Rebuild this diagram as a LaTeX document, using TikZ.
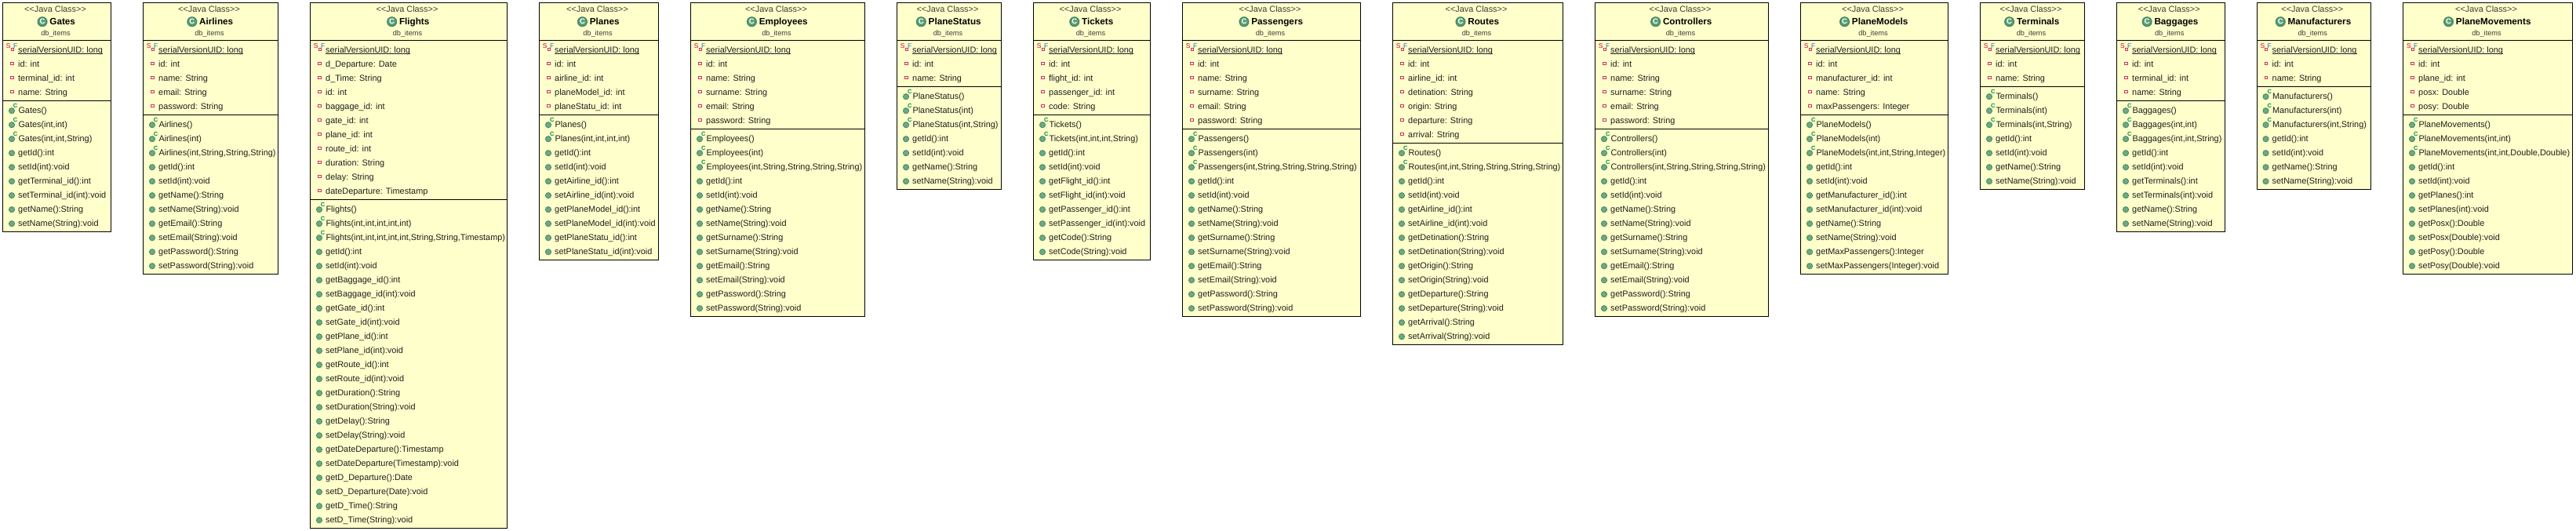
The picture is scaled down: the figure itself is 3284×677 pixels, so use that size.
\documentclass[tikz,border=0pt]{standalone}
\usepackage{fontspec}
\setmainfont{Liberation Sans}
\catcode`\_=12
\definecolor{boxfill}{HTML}{FFFFCB}
\definecolor{txtdark}{HTML}{1E1E1E}
\definecolor{txtgray}{HTML}{3C3C3C}
\definecolor{attred}{HTML}{D0305A}
\definecolor{metgreen}{HTML}{70A885}
\definecolor{metedge}{HTML}{3E8A60}
\definecolor{ctorc}{HTML}{008A4A}
\definecolor{finalf}{HTML}{2A6CC0}
\definecolor{statics}{HTML}{C8003C}
\tikzset{
  x=1pt,y=-1pt,
  classbox/.style={draw=black,line width=1pt,fill=boxfill,inner sep=0pt,outer sep=0pt,anchor=north west},
  seprule/.style={draw=black,line width=1pt},
  stereotype/.style={inner sep=0pt,anchor=base,text=txtgray,font=\fontsize{10.9}{13}\selectfont},
  classtitle/.style={inner sep=0pt,anchor=base,text=black,font=\fontsize{11.7}{13}\selectfont\bfseries},
  pkgname/.style={inner sep=0pt,anchor=base,text=txtgray,font=\fontsize{9.2}{11}\selectfont},
  member/.style={inner sep=0pt,anchor=base west,text=txtdark,font=\fontsize{10.9}{13}\selectfont},
  underrule/.style={draw=txtdark,line width=.9pt},
  classicon/.style={circle,draw=metedge,line width=1.4pt,fill=metgreen!70!metedge,minimum size=11.6pt,inner sep=0pt,text=white,font=\fontsize{9.5}{10}\selectfont\bfseries},
  attricon/.style={rectangle,draw=attred,line width=1.1pt,fill=white,minimum size=3.2pt,inner sep=0pt},
  methicon/.style={circle,draw=metedge,line width=.8pt,fill=metgreen,minimum size=7.2pt,inner sep=0pt},
  ctormark/.style={inner sep=0pt,text=ctorc,font=\fontsize{7.5}{8}\selectfont\bfseries},
  staticmark/.style={inner sep=0pt,text=statics,font=\fontsize{8.5}{9}\selectfont},
  finalmark/.style={inner sep=0pt,text=finalf,font=\fontsize{8.5}{9}\selectfont},
}
\newcount\nA \newcount\nC \newcount\nM
% id, left, right, title, fields, constructors, methods
\newcommand\umlclass[7]{%
  \global\nA=1 \foreach \txt in {#5}{\global\advance\nA by 1 }%
  \global\nC=0 \foreach \txt in {#6}{\global\advance\nC by 1 }%
  \global\nM=0 \foreach \txt in {#7}{\global\advance\nM by 1 }%
  \pgfmathsetmacro\sepy{51.5+18*\the\nA+5}%
  \pgfmathsetmacro\boty{\sepy+12+18*(\the\nC+\the\nM-1)+11}%
  \pgfmathsetmacro\cx{(#2+#3)/2}%
  \node[classbox,name=#1,minimum width={(#3-#2)*1pt},minimum height={(\boty-3.5)*1pt}] at (#2,3.5) {};
  \draw[seprule] (#2,51.5) -- (#3,51.5);
  \draw[seprule] (#2,\sepy) -- (#3,\sepy);
  \node[stereotype,name=#1-st] at ({\cx-2},15.8) {<{}<Java Class>{}>};
  \node[classtitle,name=#1-title] at ({\cx+7.2},32) {#4};
  \node[classicon,name=#1-icon] at ([xshift=-9.2pt,yshift=4.3pt]#1-title.base west) {C};
  \node[pkgname,name=#1-pkg] at ({\cx-1.5},46) {db_items};
  % serial field
  \node[staticmark,name=#1-S] at ({#2+7.3},58.7) {S};
  \node[finalmark,name=#1-F] at ({#2+16.2},58.7) {F};
  \node[attricon,name=#1-si] at ({#2+12.2},63.3) {};
  \node[member,name=#1-a0] at ({#2+19.5},67) {serialVersionUID: long};
  \draw[underrule] ([yshift=-1.6pt]#1-a0.base west) -- ([yshift=-1.6pt]#1-a0.base east);
  \foreach \txt [count=\i] in {#5}{
    \node[attricon,name=#1-ai\i] at ({#2+12},{63.3+18*\i}) {};
    \node[member,name=#1-a\i] at ({#2+19.5},{67+18*\i}) {\txt};
  }
  \foreach \txt [count=\i] in {#6}{
    \node[methicon,name=#1-ci\i] at ({#2+11.5},{\sepy+12.7+18*(\i-1)}) {};
    \node[ctormark,name=#1-cm\i] at ({#2+16.2},{\sepy+6.4+18*(\i-1)}) {C};
    \node[member,name=#1-c\i] at ({#2+19.8},{\sepy+15.7+18*(\i-1)}) {\txt};
  }
  \foreach \txt [count=\i] in {#7}{
    \node[methicon,name=#1-mi\i] at ({#2+11.5},{\sepy+12.7+18*(\the\nC+\i-1)}) {};
    \node[member,name=#1-m\i] at ({#2+19.5},{\sepy+15.7+18*(\the\nC+\i-1)}) {\txt};
  }
}
\begin{document}
\begin{tikzpicture}
\useasboundingbox (0,0) rectangle (3284,677);
\umlclass{gates}{3.5}{141.5}{Gates}
 {{id: int},{terminal_id: int},{name: String}}
 {{Gates()},{Gates(int,int)},{Gates(int,int,String)}}
 {{getId():int},{setId(int):void},{getTerminal_id():int},{setTerminal_id(int):void},{getName():String},{setName(String):void}}
\umlclass{airlines}{182.5}{354.5}{Airlines}
 {{id: int},{name: String},{email: String},{password: String}}
 {{Airlines()},{Airlines(int)},{Airlines(int,String,String,String)}}
 {{getId():int},{setId(int):void},{getName():String},{setName(String):void},{getEmail():String},{setEmail(String):void},{getPassword():String},{setPassword(String):void}}
\umlclass{flights}{395.5}{646.5}{Flights}
 {{d_Departure: Date},{d_Time: String},{id: int},{baggage_id: int},{gate_id: int},{plane_id: int},{route_id: int},{duration: String},{delay: String},{dateDeparture: Timestamp}}
 {{Flights()},{Flights(int,int,int,int,int)},{Flights(int,int,int,int,int,String,String,Timestamp)}}
 {{getId():int},{setId(int):void},{getBaggage_id():int},{setBaggage_id(int):void},{getGate_id():int},{setGate_id(int):void},{getPlane_id():int},{setPlane_id(int):void},{getRoute_id():int},{setRoute_id(int):void},{getDuration():String},{setDuration(String):void},{getDelay():String},{setDelay(String):void},{getDateDeparture():Timestamp},{setDateDeparture(Timestamp):void},{getD_Departure():Date},{setD_Departure(Date):void},{getD_Time():String},{setD_Time(String):void}}
\umlclass{planes}{687.5}{839.5}{Planes}
 {{id: int},{airline_id: int},{planeModel_id: int},{planeStatu_id: int}}
 {{Planes()},{Planes(int,int,int,int)}}
 {{getId():int},{setId(int):void},{getAirline_id():int},{setAirline_id(int):void},{getPlaneModel_id():int},{setPlaneModel_id(int):void},{getPlaneStatu_id():int},{setPlaneStatu_id(int):void}}
\umlclass{employees}{880.5}{1102.5}{Employees}
 {{id: int},{name: String},{surname: String},{email: String},{password: String}}
 {{Employees()},{Employees(int)},{Employees(int,String,String,String,String)}}
 {{getId():int},{setId(int):void},{getName():String},{setName(String):void},{getSurname():String},{setSurname(String):void},{getEmail():String},{setEmail(String):void},{getPassword():String},{setPassword(String):void}}
\umlclass{planestatus}{1143.5}{1276.5}{PlaneStatus}
 {{id: int},{name: String}}
 {{PlaneStatus()},{PlaneStatus(int)},{PlaneStatus(int,String)}}
 {{getId():int},{setId(int):void},{getName():String},{setName(String):void}}
\umlclass{tickets}{1317.5}{1466.5}{Tickets}
 {{id: int},{flight_id: int},{passenger_id: int},{code: String}}
 {{Tickets()},{Tickets(int,int,int,String)}}
 {{getId():int},{setId(int):void},{getFlight_id():int},{setFlight_id(int):void},{getPassenger_id():int},{setPassenger_id(int):void},{getCode():String},{setCode(String):void}}
\umlclass{passengers}{1507.5}{1734.5}{Passengers}
 {{id: int},{name: String},{surname: String},{email: String},{password: String}}
 {{Passengers()},{Passengers(int)},{Passengers(int,String,String,String,String)}}
 {{getId():int},{setId(int):void},{getName():String},{setName(String):void},{getSurname():String},{setSurname(String):void},{getEmail():String},{setEmail(String):void},{getPassword():String},{setPassword(String):void}}
\umlclass{routes}{1775.5}{1992.5}{Routes}
 {{id: int},{airline_id: int},{detination: String},{origin: String},{departure: String},{arrival: String}}
 {{Routes()},{Routes(int,int,String,String,String,String)}}
 {{getId():int},{setId(int):void},{getAirline_id():int},{setAirline_id(int):void},{getDetination():String},{setDetination(String):void},{getOrigin():String},{setOrigin(String):void},{getDeparture():String},{setDeparture(String):void},{getArrival():String},{setArrival(String):void}}
\umlclass{controllers}{2033.5}{2254.5}{Controllers}
 {{id: int},{name: String},{surname: String},{email: String},{password: String}}
 {{Controllers()},{Controllers(int)},{Controllers(int,String,String,String,String)}}
 {{getId():int},{setId(int):void},{getName():String},{setName(String):void},{getSurname():String},{setSurname(String):void},{getEmail():String},{setEmail(String):void},{getPassword():String},{setPassword(String):void}}
\umlclass{planemodels}{2295.5}{2483.5}{PlaneModels}
 {{id: int},{manufacturer_id: int},{name: String},{maxPassengers: Integer}}
 {{PlaneModels()},{PlaneModels(int)},{PlaneModels(int,int,String,Integer)}}
 {{getId():int},{setId(int):void},{getManufacturer_id():int},{setManufacturer_id(int):void},{getName():String},{setName(String):void},{getMaxPassengers():Integer},{setMaxPassengers(Integer):void}}
\umlclass{terminals}{2524.5}{2657.5}{Terminals}
 {{id: int},{name: String}}
 {{Terminals()},{Terminals(int)},{Terminals(int,String)}}
 {{getId():int},{setId(int):void},{getName():String},{setName(String):void}}
\umlclass{baggages}{2698.5}{2836}{Baggages}
 {{id: int},{terminal_id: int},{name: String}}
 {{Baggages()},{Baggages(int,int)},{Baggages(int,int,String)}}
 {{getId():int},{setId(int):void},{getTerminals():int},{setTerminals(int):void},{getName():String},{setName(String):void}}
\umlclass{manufacturers}{2877}{3022.5}{Manufacturers}
 {{id: int},{name: String}}
 {{Manufacturers()},{Manufacturers(int)},{Manufacturers(int,String)}}
 {{getId():int},{setId(int):void},{getName():String},{setName(String):void}}
\umlclass{planemovements}{3063.5}{3279.5}{PlaneMovements}
 {{id: int},{plane_id: int},{posx: Double},{posy: Double}}
 {{PlaneMovements()},{PlaneMovements(int,int)},{PlaneMovements(int,int,Double,Double)}}
 {{getId():int},{setId(int):void},{getPlanes():int},{setPlanes(int):void},{getPosx():Double},{setPosx(Double):void},{getPosy():Double},{setPosy(Double):void}}
\end{tikzpicture}
\end{document}
